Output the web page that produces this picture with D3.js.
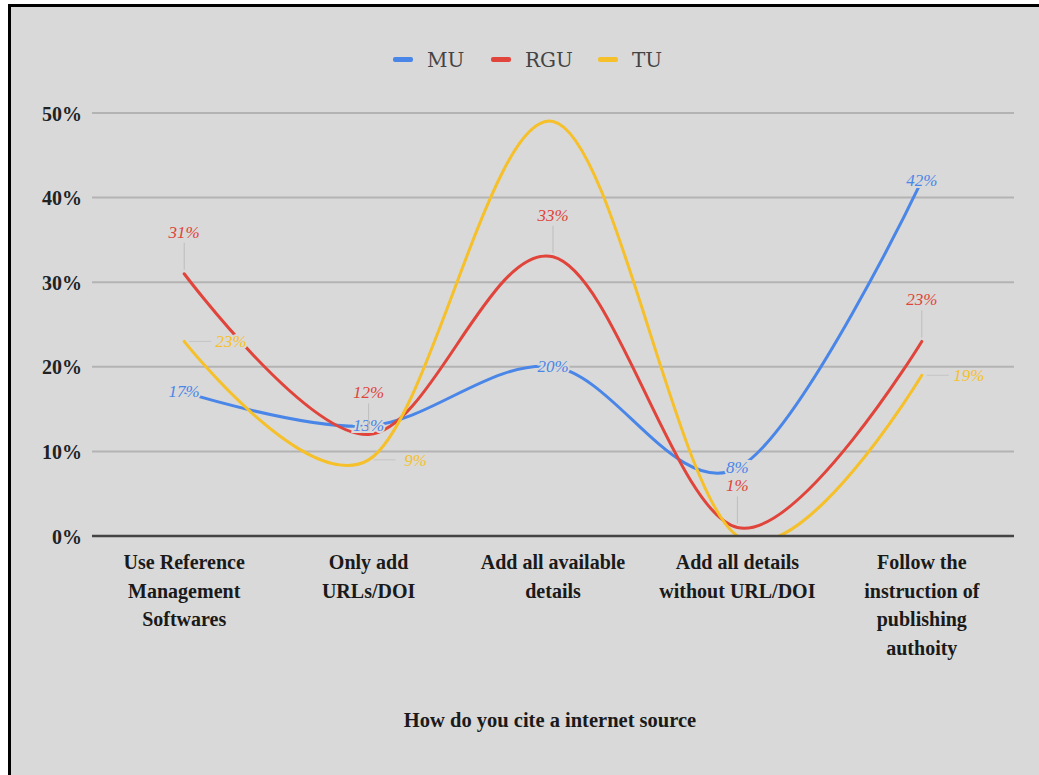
<!DOCTYPE html>
<html>
<head>
<meta charset="utf-8">
<script src="https://cdn.jsdelivr.net/npm/d3@7"></script>
<style>
  html, body { margin: 0; padding: 0; background: #ffffff; }
  svg { display: block; }
</style>
</head>
<body>
<svg id="chart" width="1039" height="775"></svg>
<script>
// ---- data ----
const categories = [
  "Use Reference Management Softwares",
  "Only add URLs/DOI",
  "Add all available details",
  "Add all details without URL/DOI",
  "Follow the instruction of publishing authoity"
];
const categoryLines = [
  ["Use Reference", "Management", "Softwares"],
  ["Only add", "URLs/DOI"],
  ["Add all available", "details"],
  ["Add all details", "without URL/DOI"],
  ["Follow the", "instruction of", "publishing", "authoity"]
];
const seriesNames = ["MU", "RGU", "TU"];
const muValues  = [17, 13, 20, 8, 42];
const rguValues = [31, 12, 33, 1, 23];
const tuValues  = [23, 9, 49, 0, 19];
const yTicks = [0, 10, 20, 30, 40, 50];
const xTitle = "How do you cite a internet source";

// label placement per point (styling)
const muLabelMode  = ["center", "center", "center", "center", "center"];
const rguLabelMode = ["above", "above", "above", "above", "above"];
const tuLabelMode  = ["right", "right", "none", "none", "right"];

const colors = { MU: "#4a86e8", RGU: "#e0443a", TU: "#f5c02a" };
const bg = "#d9d9d9";

const series = [
  { name: "MU",  values: muValues,  modes: muLabelMode },
  { name: "RGU", values: rguValues, modes: rguLabelMode },
  { name: "TU",  values: tuValues,  modes: tuLabelMode }
];

const svg = d3.select("#chart");

// background + frame
svg.append("rect").attr("x", 0).attr("y", 0).attr("width", 1039).attr("height", 775).attr("fill", "#ffffff");
svg.append("rect").attr("x", 8).attr("y", 4).attr("width", 1031).attr("height", 771).attr("fill", bg);
svg.append("line").attr("x1", 9.5).attr("x2", 9.5).attr("y1", 4).attr("y2", 775).attr("stroke", "#000").attr("stroke-width", 3);
svg.append("line").attr("x1", 8).attr("x2", 1039).attr("y1", 5.5).attr("y2", 5.5).attr("stroke", "#000").attr("stroke-width", 3);

// scales
const x = d3.scalePoint().domain(categories).range([92, 1014]).padding(0.5);
const y = d3.scaleLinear().domain([0, 50]).range([536, 113]);

// gridlines
const gy = svg.append("g");
gy.selectAll("line.grid").data(yTicks.filter(t => t !== 0)).enter().append("line")
  .attr("x1", 92).attr("x2", 1014)
  .attr("y1", d => y(d)).attr("y2", d => y(d))
  .attr("stroke", "#b3b3b3").attr("stroke-width", 2);

// y axis labels via d3 axis
const yAxis = d3.axisLeft(y).tickValues(yTicks).tickFormat(d => d + "%").tickSize(0).tickPadding(0);
const yg = svg.append("g").attr("transform", "translate(82,0)").call(yAxis);
yg.select(".domain").remove();
yg.selectAll("text")
  .attr("font-family", "'Liberation Serif', serif")
  .attr("font-weight", "bold")
  .attr("font-size", 20)
  .attr("fill", "#222")
  .attr("dy", "0.35em");

// clip for lines (chart area)
svg.append("clipPath").attr("id", "plotclip").append("rect")
  .attr("x", 80).attr("y", 90).attr("width", 950).attr("height", 536 - 90);

const line = d3.line()
  .x((d, i) => x(categories[i]))
  .y(d => y(d))
  .curve(d3.curveCardinal.tension(0));

const lg = svg.append("g").attr("clip-path", "url(#plotclip)");
series.forEach(s => {
  lg.append("path")
    .attr("d", line(s.values))
    .attr("fill", "none")
    .attr("stroke", colors[s.name])
    .attr("stroke-width", 3)
    .attr("stroke-linejoin", "round")
    .attr("stroke-linecap", "round");
});

// zero line
svg.append("line").attr("x1", 92).attr("x2", 1014).attr("y1", y(0)).attr("y2", y(0))
  .attr("stroke", "#444").attr("stroke-width", 2.5);

// data labels with leader lines
const labG = svg.append("g");
series.forEach(s => {
  s.values.forEach((v, i) => {
    const mode = s.modes[i];
    if (mode === "none") return;
    const px = x(categories[i]), py = y(v);
    let tx = px, ty = py - 1, anchor = "middle";
    if (mode === "above") {
      ty = py - 42;
      labG.append("line").attr("x1", px).attr("x2", px)
        .attr("y1", py - 4).attr("y2", ty + 11)
        .attr("stroke", "#bdbdbd").attr("stroke-width", 1);
    } else if (mode === "right") {
      tx = px + 47;
      ty = py;
      labG.append("line").attr("x1", px + 5).attr("x2", tx - 20)
        .attr("y1", py).attr("y2", py)
        .attr("stroke", "#c4c4c4").attr("stroke-width", 1);
    }
    labG.append("text")
      .attr("x", tx).attr("y", ty).attr("dy", "0.35em")
      .attr("text-anchor", anchor)
      .attr("font-family", "'Liberation Serif', serif")
      .attr("font-style", "italic")
      .attr("font-size", 17)
      .attr("fill", colors[s.name])
      .attr("stroke", bg).attr("stroke-width", 4)
      .attr("paint-order", "stroke")
      .text(v + "%");
  });
});

// x category labels
const xg = svg.append("g");
categoryLines.forEach((lines, i) => {
  const t = xg.append("text")
    .attr("x", x(categories[i])).attr("y", 569)
    .attr("text-anchor", "middle")
    .attr("font-family", "'Liberation Serif', serif")
    .attr("font-weight", "bold")
    .attr("font-size", 20)
    .attr("fill", "#1a1a1a");
  lines.forEach((ln, j) => {
    t.append("tspan").attr("x", x(categories[i])).attr("dy", j === 0 ? 0 : 28.5).text(ln);
  });
});

// x title
svg.append("text").attr("x", 550).attr("y", 727)
  .attr("text-anchor", "middle")
  .attr("font-family", "'Liberation Serif', serif")
  .attr("font-weight", "bold")
  .attr("font-size", 20.5)
  .attr("fill", "#1a1a1a")
  .text(xTitle);

// legend
const legendX = [393, 491, 598];
const leg = svg.append("g");
seriesNames.forEach((n, i) => {
  leg.append("rect").attr("x", legendX[i]).attr("y", 57).attr("width", 20).attr("height", 5)
    .attr("rx", 2).attr("fill", colors[n]);
  leg.append("text").attr("x", legendX[i] + 34).attr("y", 60).attr("dy", "0.35em")
    .attr("font-family", "'DejaVu Serif', serif")
    .attr("font-size", 20)
    .attr("fill", "#444")
    .text(n);
});
</script>
</body>
</html>
